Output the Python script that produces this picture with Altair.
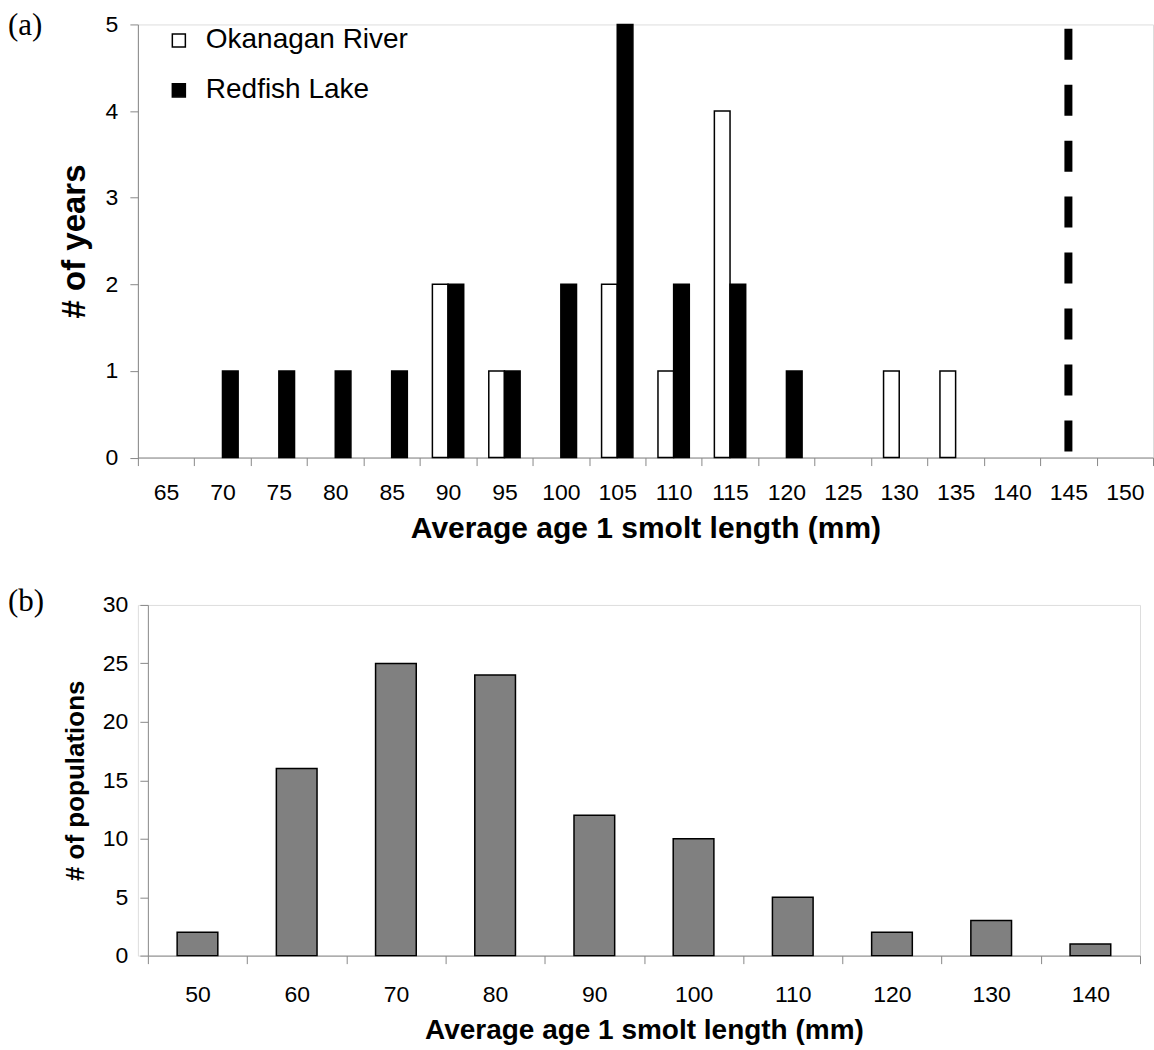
import altair as alt
import pandas as pd

# ---------------- data ----------------
top_categories = ["65", "70", "75", "80", "85", "90", "95", "100", "105",
                  "110", "115", "120", "125", "130", "135", "140", "145", "150"]
series_order = ["Okanagan River", "Redfish Lake"]

okanagan_lengths = ["90", "95", "105", "110", "115", "130", "135"]
okanagan_counts = [2, 1, 2, 1, 4, 1, 1]

redfish_lengths = ["70", "75", "80", "85", "90", "95", "100", "105", "110", "115", "120"]
redfish_counts = [1, 1, 1, 1, 2, 1, 2, 5, 2, 2, 1]

threshold_length = ["145"]

bottom_categories = ["50", "60", "70", "80", "90", "100", "110", "120", "130", "140"]
population_counts = [2, 16, 25, 24, 12, 10, 5, 2, 3, 1]

panel_labels = ["(a)", "(b)"]

# ---------------- tables ----------------
top_df = pd.concat([
    pd.DataFrame({"length": okanagan_lengths, "count": okanagan_counts,
                  "series": series_order[0]}),
    pd.DataFrame({"length": redfish_lengths, "count": redfish_counts,
                  "series": series_order[1]}),
], ignore_index=True)

rule_df = pd.DataFrame({"length": threshold_length, "ytop": [4.95], "ybot": [0.05]})
bottom_df = pd.DataFrame({"length": bottom_categories, "count": population_counts})

TICK_FONT = "Liberation Sans"
TITLE_FONT = "DejaVu Sans"

# ---------------- top panel ----------------
x_top_scale = alt.Scale(domain=top_categories, paddingInner=0, paddingOuter=0)
x_top_axis = alt.Axis(title="Average age 1 smolt length (mm)", labelAngle=0,
                      tickBand="extent", tickSize=8, labelPadding=16, grid=False,
                      labelFontSize=23, titleFontSize=30, titlePadding=9)
y_top_scale = alt.Scale(domain=[0, 5], nice=False)
y_top_axis = alt.Axis(title="# of years", values=[0, 1, 2, 3, 4, 5], tickSize=8,
                      grid=False, labelPadding=12, labelFontSize=23,
                      titleFontSize=33, titlePadding=14)

bars_top = alt.Chart(top_df).mark_bar(stroke="black", strokeWidth=1.5).encode(
    x=alt.X("length:N", sort=top_categories, scale=x_top_scale, axis=x_top_axis),
    xOffset=alt.XOffset("series:N", sort=series_order,
                        scale=alt.Scale(domain=series_order, paddingInner=0,
                                        paddingOuter=0.8)),
    y=alt.Y("count:Q", scale=y_top_scale, axis=y_top_axis),
    fill=alt.Fill("series:N", sort=series_order,
                  scale=alt.Scale(domain=series_order, range=["white", "black"]),
                  legend=alt.Legend(title=None, orient="none", legendX=27, legendY=2,
                                    symbolType="square", symbolSize=170,
                                    symbolStrokeColor="black", symbolStrokeWidth=1.5,
                                    labelFont=TICK_FONT, labelFontSize=28,
                                    labelColor="black", labelOffset=13,
                                    labelLimit=500, rowPadding=22, padding=0)),
)

rule_top = alt.Chart(rule_df).mark_rule(color="black", strokeWidth=8,
                                        strokeDash=[31, 25]).encode(
    x=alt.X("length:N", sort=top_categories, scale=x_top_scale, axis=x_top_axis,
            bandPosition=0.5),
    y=alt.Y("ytop:Q", scale=y_top_scale, axis=y_top_axis),
    y2="ybot:Q",
)

label_a = alt.Chart(pd.DataFrame({"t": [panel_labels[0]]})).mark_text(
    align="left", baseline="middle", font="Liberation Serif", fontSize=31,
    color="black").encode(text="t:N", x=alt.value(-130), y=alt.value(2))

top = alt.layer(bars_top, rule_top, label_a).properties(width=1016, height=433.5)

# ---------------- bottom panel ----------------
x_bot = alt.X("length:N", sort=bottom_categories,
              scale=alt.Scale(domain=bottom_categories, paddingInner=0,
                              paddingOuter=0, range=[10, 1003]),
              axis=alt.Axis(title="Average age 1 smolt length (mm)", labelAngle=0,
                            tickBand="extent", tickSize=8, labelPadding=20, grid=False,
                            labelFontSize=23, titleFontSize=28, titlePadding=10))
y_bot = alt.Y("count:Q", scale=alt.Scale(domain=[0, 30], nice=False),
              axis=alt.Axis(title="# of populations", values=[0, 5, 10, 15, 20, 25, 30],
                            tickSize=8, labelPadding=12, labelFontSize=23, grid=False,
                            titleFontSize=26, titlePadding=14, offset=-10))

bars_bot = alt.Chart(bottom_df).mark_bar(
    color="#808080", stroke="black", strokeWidth=1.5,
    width=alt.RelativeBandSize(0.41)).encode(x=x_bot, y=y_bot)

label_b = alt.Chart(pd.DataFrame({"t": [panel_labels[1]]})).mark_text(
    align="left", baseline="middle", font="Liberation Serif", fontSize=31,
    color="black").encode(text="t:N", x=alt.value(-130), y=alt.value(-3))

bottom = alt.layer(bars_bot, label_b).properties(width=1003, height=351)

chart = alt.vconcat(top, bottom, spacing=41).properties(
    padding={"left": 7, "top": 9, "right": 0, "bottom": 0}
).configure_view(stroke=None).configure_axis(
    labelFont=TICK_FONT, labelColor="black", titleFont=TITLE_FONT,
    titleColor="black", titleFontWeight="bold", domainColor="black",
    domainWidth=1.5, tickColor="#555555", tickWidth=1.5, grid=False
).configure(background="white")

chart.save("out.html", embed_options={"renderer": "svg", "actions": False})
